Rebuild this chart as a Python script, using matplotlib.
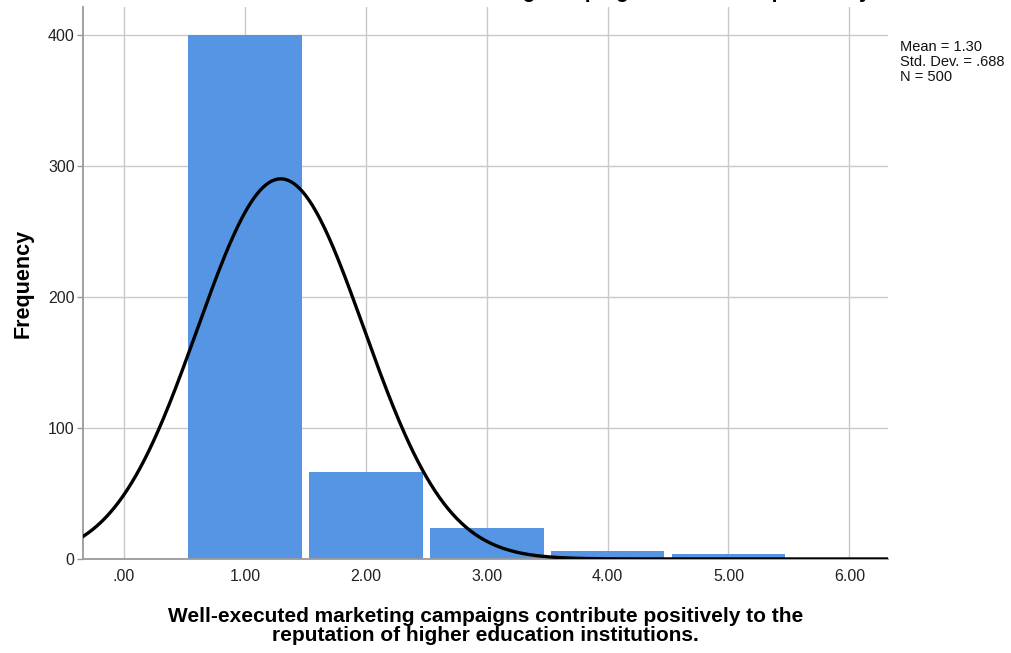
import numpy as np
import matplotlib
matplotlib.use("Agg")
import matplotlib.pyplot as plt

plt.rcParams['font.family'] = ['Liberation Sans', 'DejaVu Sans']

# Response scores and their counts
scores = [1, 2, 3, 4, 5]
counts = [400, 66, 24, 6, 4]
xticks = [0, 1, 2, 3, 4, 5, 6]
xtick_labels = [".00", "1.00", "2.00", "3.00", "4.00", "5.00", "6.00"]
yticks = [0, 100, 200, 300, 400]

label = ("Well-executed marketing campaigns contribute positively to the\n"
         "reputation of higher education institutions.")
title = "Well-executed marketing campaigns contribute positively"

values = np.repeat(scores, counts)
n = len(values)
mean = values.mean()
sd = values.std(ddof=1)

fig = plt.figure(figsize=(10.12, 6.53), dpi=100)
ax = fig.add_axes([0.082, 0.144, 0.7955, 0.8453])

bar_color = "#5595e4"
grid_color = "#c9c9c9"

ax.set_xlim(-0.34, 6.32)
ax.set_ylim(0, 421)
ax.set_axisbelow(True)
ax.grid(True, color=grid_color, linewidth=1.0)

ax.bar(scores, counts, width=0.94, color=bar_color, linewidth=0, zorder=2)

xs = np.linspace(-0.6, 6.6, 600)
pdf = n * np.exp(-0.5 * ((xs - mean) / sd) ** 2) / (sd * np.sqrt(2 * np.pi))
ax.plot(xs, pdf, color="black", linewidth=2.4, zorder=4, clip_on=True)

ax.set_xticks(xticks)
ax.set_xticklabels(xtick_labels)
ax.set_yticks(yticks)
ax.tick_params(axis="x", length=0, pad=7, labelsize=11.5, labelcolor="#222222")
ax.tick_params(axis="y", length=4, width=1, color="#999999", pad=2,
               labelsize=11.5, labelcolor="#222222")

for side in ("top", "right"):
    ax.spines[side].set_visible(False)
for side in ("left", "bottom"):
    ax.spines[side].set_color("#9a9a9a")
    ax.spines[side].set_linewidth(1.3)

ax.set_ylabel("Frequency", fontsize=15.5, fontweight="bold", labelpad=10)
ax.set_xlabel(label, fontsize=15, fontweight="bold", labelpad=17,
              linespacing=0.98)

fig.text(0.889, 0.938,
         f"Mean = {mean:.2f}\nStd. Dev. = {sd:.3f}".replace("0.", ".")
         + f"\nN = {n}",
         fontsize=10.5, va="top", ha="left", linespacing=1.05, color="#111111")

fig.text(0.57, 1.004, title, fontsize=15.5, fontweight="bold",
         ha="center", va="baseline")

fig.savefig("out.png", dpi=100)
